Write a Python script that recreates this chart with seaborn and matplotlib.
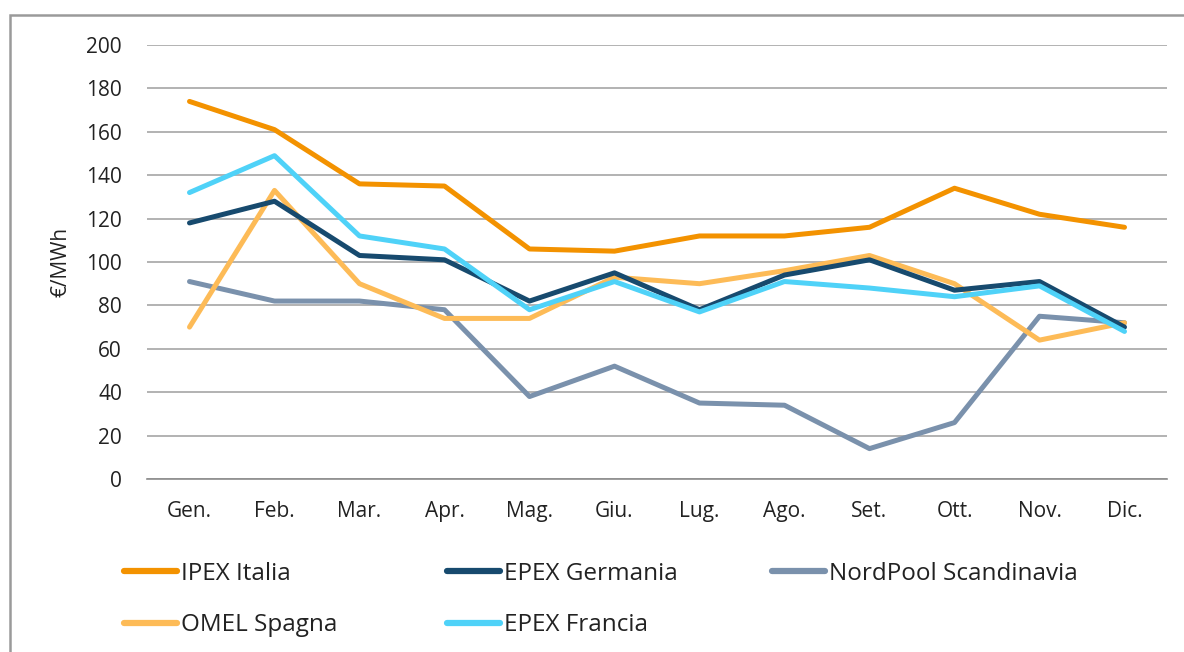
import numpy as np
import pandas as pd
import matplotlib
matplotlib.use("Agg")
import matplotlib.pyplot as plt
import seaborn as sns
from matplotlib.patches import Rectangle

# dati mensili (€/MWh)
mesi = ["Gen.", "Feb.", "Mar.", "Apr.", "Mag.", "Giu.",
        "Lug.", "Ago.", "Set.", "Ott.", "Nov.", "Dic."]
ipex_italia = [174, 161, 136, 135, 106, 105, 112, 112, 116, 134, 122, 116]
epex_germania = [118, 128, 103, 101, 82, 95, 78, 94, 101, 87, 91, 70]
nordpool = [91, 82, 82, 78, 38, 52, 35, 34, 14, 26, 75, 72]
omel_spagna = [70, 133, 90, 74, 74, 93, 90, 96, 103, 90, 64, 72]
epex_francia = [132, 149, 112, 106, 78, 91, 77, 91, 88, 84, 89, 68]

serie = {
    "IPEX Italia": ipex_italia,
    "EPEX Germania": epex_germania,
    "NordPool Scandinavia": nordpool,
    "OMEL Spagna": omel_spagna,
    "EPEX Francia": epex_francia,
}
colori = {
    "IPEX Italia": "#F39200",
    "EPEX Germania": "#174A6E",
    "NordPool Scandinavia": "#7A91AC",
    "OMEL Spagna": "#FDBB57",
    "EPEX Francia": "#4FD2F8",
}

rows = []
for nome, valori in serie.items():
    for i, v in enumerate(valori):
        rows.append({"mese": i, "serie": nome, "valore": v})
df = pd.DataFrame(rows)

sns.set_style("white")
plt.rcParams['font.family'] = ['Open Sans', 'DejaVu Sans']

W, H = 1184, 652
fig = plt.figure(figsize=(W / 100, H / 100), dpi=100)
ax = fig.add_axes([147 / W, 1 - 479 / H, 1020 / W, 434 / H])

# ordine di disegno: le serie principali sopra
ordine = ["NordPool Scandinavia", "OMEL Spagna", "EPEX Germania", "EPEX Francia", "IPEX Italia"]
sns.lineplot(data=df, x="mese", y="valore", hue="serie", hue_order=ordine,
             palette=colori, linewidth=3.6, ax=ax, legend=False)

ax.set_xlim(-0.5, 11.5)
ax.set_ylim(0, 200)
ax.set_yticks(np.arange(0, 201, 20))
ax.yaxis.grid(True, color="#A6A6A6", linewidth=1.2)
ax.set_axisbelow(True)
ax.tick_params(axis="y", length=0, labelsize=15, pad=18, colors="#222222")

ax.set_xticks(np.arange(-0.5, 12, 1))
ax.set_xticklabels([])
ax.set_xticks(np.arange(12), minor=True)
ax.set_xticklabels(mesi, minor=True)
ax.tick_params(axis="x", which="major", length=9, width=1.2, color="#8C8C8C")
ax.tick_params(axis="x", which="minor", length=0, labelsize=15, pad=16, colors="#222222")

for s in ["top", "right", "left"]:
    ax.spines[s].set_visible(False)
ax.spines["bottom"].set_color("#8C8C8C")
ax.spines["bottom"].set_linewidth(1.2)

ax.set_xlabel("")
ax.set_ylabel("€/MWh", fontsize=15, color="#222222")
ax.yaxis.set_label_coords(-0.074, 0.5)

# legenda sotto il grafico, tre colonne
colonne = [(124, ["IPEX Italia", "OMEL Spagna"]),
           (447, ["EPEX Germania", "EPEX Francia"]),
           (772, ["NordPool Scandinavia"])]
for x0, nomi in colonne:
    handles = [plt.Line2D([], [], color=colori[n], linewidth=4.5,
                          solid_capstyle="round") for n in nomi]
    leg = fig.legend(handles, nomi, loc="upper left",
                     bbox_to_anchor=(x0 / W, 1 - 562 / H),
                     frameon=False, fontsize=17.5, handlelength=2.2,
                     handletextpad=0.15, labelspacing=1.12,
                     borderpad=0, borderaxespad=0)
    for t in leg.get_texts():
        t.set_color("#222222")

# cornice esterna
fig.patches.append(Rectangle((10 / W, -0.05), 1.2, 1 - 15 / H + 0.05,
                             transform=fig.transFigure, fill=False,
                             edgecolor="#9A9A9A", linewidth=1.8))

fig.savefig("out.png", dpi=100)
